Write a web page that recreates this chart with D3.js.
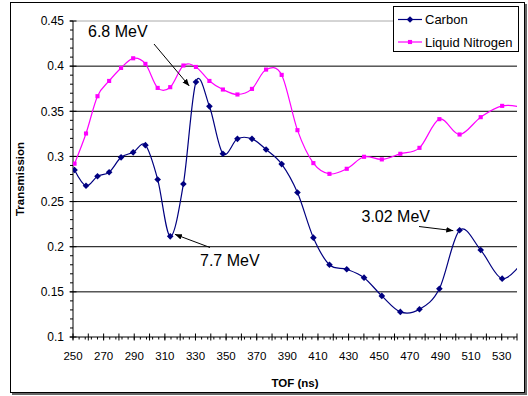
<!DOCTYPE html>
<html>
<head>
<meta charset="utf-8">
<script src="https://cdn.jsdelivr.net/npm/d3@7"></script>
<style>
  body { margin: 0; background: #fff; }
  svg { display: block; font-family: "Liberation Sans", Arial, sans-serif; }
</style>
</head>
<body>
<svg width="528" height="396"></svg>
<script>
"use strict";

// TOF (ns) of each measured point, shared by both series
var tof = [251, 258.5, 266, 273.6, 281.4, 289.3, 297.3, 305.3, 313.5, 322.1,
    330.3, 339.1, 347.9, 357.4, 366.9, 376.1, 386.3, 396.6, 407, 417.5,
    428.8, 440.1, 451.7, 463.8, 476.3, 489.3, 502.5, 516.3, 530.3, 544.5];

var carbon = [0.285, 0.2675, 0.278, 0.2825, 0.299, 0.3045, 0.3125, 0.2745, 0.2115, 0.2695,
    0.3825, 0.3555, 0.303, 0.3195, 0.3195, 0.3077, 0.2915, 0.260, 0.210, 0.180,
    0.175, 0.1657, 0.1455, 0.1278, 0.1307, 0.1535, 0.2182, 0.1963, 0.1646, 0.185];

var nitrogen = [0.292, 0.3254, 0.3667, 0.3836, 0.398, 0.4087, 0.4025, 0.3759, 0.3767, 0.4007,
    0.3991, 0.3836, 0.3741, 0.3686, 0.3748, 0.3962, 0.3903, 0.3291, 0.2926, 0.2807,
    0.2863, 0.2996, 0.2967, 0.3029, 0.3095, 0.3413, 0.3243, 0.3435, 0.356, 0.354];

var xTicks = d3.range(250, 531, 20);
var yTicks = [0.1, 0.15, 0.2, 0.25, 0.3, 0.35, 0.4, 0.45];

var seriesNames = ['Carbon', 'Liquid Nitrogen'];
var seriesColors = ['#000080', '#FF00FF'];

var svg = d3.select('svg');

var xScale = d3.scaleLinear()
    .domain([250, 540])
    .range([73, 517]);

var yScale = d3.scaleLinear()
    .domain([0.1, 0.45])
    .range([337, 21]);

// outer chart frame with a little shadow
svg.append('rect')
    .attr('x', 12).attr('y', 4).attr('width', 515).attr('height', 391)
    .attr('fill', '#666');
svg.append('rect')
    .attr('x', 10.5).attr('y', 2.5).attr('width', 514).attr('height', 390)
    .attr('fill', '#fff').attr('stroke', '#000');

svg.append('clipPath').attr('id', 'plot')
    .append('rect')
    .attr('x', xScale(250)).attr('y', yScale(0.45) - 5)
    .attr('width', xScale(540) - xScale(250))
    .attr('height', yScale(0.1) - yScale(0.45) + 5);

// horizontal gridlines
svg.append('g')
    .selectAll('line')
    .data(yTicks.slice(1))
    .enter()
    .append('line')
    .attr('x1', xScale(250))
    .attr('x2', xScale(540))
    .attr('y1', function (d) { return yScale(d); })
    .attr('y2', function (d) { return yScale(d); })
    .attr('stroke', function (d) { return d === 0.45 ? '#aaa' : '#000'; })
    .attr('stroke-width', 1);

// y axis
var yAxis = svg.append('g');
yAxis.append('line')
    .attr('x1', xScale(250)).attr('x2', xScale(250))
    .attr('y1', yScale(0.45)).attr('y2', yScale(0.1))
    .attr('stroke', '#000');
yAxis.selectAll('.minor')
    .data(d3.range(10, 46).map(function (d) { return d / 100; }))
    .enter()
    .append('line')
    .attr('x1', xScale(250) - 3).attr('x2', xScale(250))
    .attr('y1', function (d) { return yScale(d); })
    .attr('y2', function (d) { return yScale(d); })
    .attr('stroke', '#000');
yAxis.selectAll('.major')
    .data(yTicks)
    .enter()
    .append('line')
    .attr('x1', xScale(250) - 3.5).attr('x2', xScale(250) + 3.5)
    .attr('y1', function (d) { return yScale(d); })
    .attr('y2', function (d) { return yScale(d); })
    .attr('stroke', '#000');
yAxis.selectAll('text')
    .data(yTicks)
    .enter()
    .append('text')
    .attr('x', 64)
    .attr('y', function (d) { return yScale(d) + 4.3; })
    .attr('text-anchor', 'end')
    .style('font-size', '12px')
    .text(function (d) { return d3.format('')(d); });

// x axis
var xAxis = svg.append('g');
xAxis.append('line')
    .attr('x1', xScale(250)).attr('x2', xScale(540))
    .attr('y1', yScale(0.1)).attr('y2', yScale(0.1))
    .attr('stroke', '#000');
xAxis.selectAll('.minor')
    .data(d3.range(250, 541, 4))
    .enter()
    .append('line')
    .attr('x1', function (d) { return xScale(d); })
    .attr('x2', function (d) { return xScale(d); })
    .attr('y1', yScale(0.1)).attr('y2', yScale(0.1) + 2.5)
    .attr('stroke', '#000');
xAxis.selectAll('.major')
    .data(d3.range(250, 541, 10))
    .enter()
    .append('line')
    .attr('x1', function (d) { return xScale(d); })
    .attr('x2', function (d) { return xScale(d); })
    .attr('y1', yScale(0.1) - 3.5).attr('y2', yScale(0.1) + 3.5)
    .attr('stroke', '#000');
xAxis.selectAll('text')
    .data(xTicks)
    .enter()
    .append('text')
    .attr('x', function (d) { return xScale(d); })
    .attr('y', 360)
    .attr('text-anchor', 'middle')
    .style('font-size', '11.5px')
    .text(function (d) { return d; });

// axis titles
svg.append('text')
    .attr('x', (xScale(250) + xScale(540)) / 2)
    .attr('y', 387)
    .attr('text-anchor', 'middle')
    .style('font-size', '11.5px')
    .style('font-weight', 'bold')
    .text('TOF (ns)');

svg.append('text')
    .attr('transform', 'translate(24,' + (yScale(0.1) + yScale(0.45)) / 2 + ') rotate(-90)')
    .attr('text-anchor', 'middle')
    .style('font-size', '11.5px')
    .style('font-weight', 'bold')
    .text('Transmission');

// smoothed lines
var lineGen = d3.line()
    .x(function (d) { return xScale(d[0]); })
    .y(function (d) { return yScale(d[1]); })
    .curve(d3.curveCardinal.tension(0));

var series = [carbon, nitrogen].map(function (vals) {
    return tof.map(function (t, i) { return [t, vals[i]]; });
});

var plot = svg.append('g').attr('clip-path', 'url(#plot)');

plot.selectAll('path.line')
    .data(series)
    .enter()
    .append('path')
    .attr('class', 'line')
    .attr('d', lineGen)
    .attr('fill', 'none')
    .attr('stroke', function (d, i) { return seriesColors[i]; })
    .attr('stroke-width', 1.2);

var diamond = d3.symbol().type(d3.symbolSquare).size(22);
var square = d3.symbol().type(d3.symbolSquare).size(17);

plot.append('g')
    .selectAll('path')
    .data(series[0].filter(function (d) { return d[0] <= 540; }))
    .enter()
    .append('path')
    .attr('transform', function (d) {
        return 'translate(' + xScale(d[0]) + ',' + yScale(d[1]) + ') rotate(45)';
    })
    .attr('d', diamond())
    .attr('fill', seriesColors[0]);

plot.append('g')
    .selectAll('path')
    .data(series[1].filter(function (d) { return d[0] <= 540; }))
    .enter()
    .append('path')
    .attr('transform', function (d) {
        return 'translate(' + xScale(d[0]) + ',' + yScale(d[1]) + ')';
    })
    .attr('d', square())
    .attr('fill', seriesColors[1]);

// annotations: arrow points near a carbon point
svg.append('defs').append('marker')
    .attr('id', 'arrow')
    .attr('viewBox', '0 0 10 10')
    .attr('refX', 10).attr('refY', 5)
    .attr('markerWidth', 7).attr('markerHeight', 7)
    .attr('markerUnits', 'userSpaceOnUse')
    .attr('orient', 'auto')
    .append('path')
    .attr('d', 'M0,1 L10,5 L0,9 Z')
    .attr('fill', '#000');

var notes = [
    { text: '6.8 MeV', idx: 10, dx: -6.7, dy: 4, sx: 154, sy: 44, tx: 88, ty: 36.5 },
    { text: '7.7 MeV', idx: 8, dx: 4.7, dy: -2, sx: 210, sy: 247.5, tx: 200, ty: 266 },
    { text: '3.02 MeV', idx: 26, dx: -6.3, dy: 0.4, sx: 419, sy: 226.5, tx: 361.5, ty: 221.5 }
];

svg.append('g')
    .selectAll('line')
    .data(notes)
    .enter()
    .append('line')
    .attr('x1', function (d) { return d.sx; })
    .attr('y1', function (d) { return d.sy; })
    .attr('x2', function (d) { return xScale(tof[d.idx]) + d.dx; })
    .attr('y2', function (d) { return yScale(carbon[d.idx]) + d.dy; })
    .attr('stroke', '#000')
    .attr('stroke-width', 1)
    .attr('marker-end', 'url(#arrow)');

svg.append('g')
    .selectAll('text')
    .data(notes)
    .enter()
    .append('text')
    .attr('x', function (d) { return d.tx; })
    .attr('y', function (d) { return d.ty; })
    .style('font-size', '16px')
    .text(function (d) { return d.text; });

// legend
var legend = svg.append('g');
legend.append('rect')
    .attr('x', 393.5).attr('y', 6.5).attr('width', 125).attr('height', 45)
    .attr('fill', '#fff').attr('stroke', '#000');

var items = legend.selectAll('g.item')
    .data(seriesNames)
    .enter()
    .append('g')
    .attr('transform', function (d, i) { return 'translate(0,' + (19.5 + i * 22.5) + ')'; });

items.append('line')
    .attr('x1', 398).attr('x2', 422)
    .attr('stroke', function (d, i) { return seriesColors[i]; })
    .attr('stroke-width', 1.2);

items.append('path')
    .attr('transform', function (d, i) { return 'translate(410,0)' + (i === 0 ? ' rotate(45)' : ''); })
    .attr('d', function (d, i) { return i === 0 ? diamond() : square(); })
    .attr('fill', function (d, i) { return seriesColors[i]; });

items.append('text')
    .attr('x', 425)
    .attr('y', 4.6)
    .style('font-size', '13px')
    .text(function (d) { return d; });
</script>
</body>
</html>
